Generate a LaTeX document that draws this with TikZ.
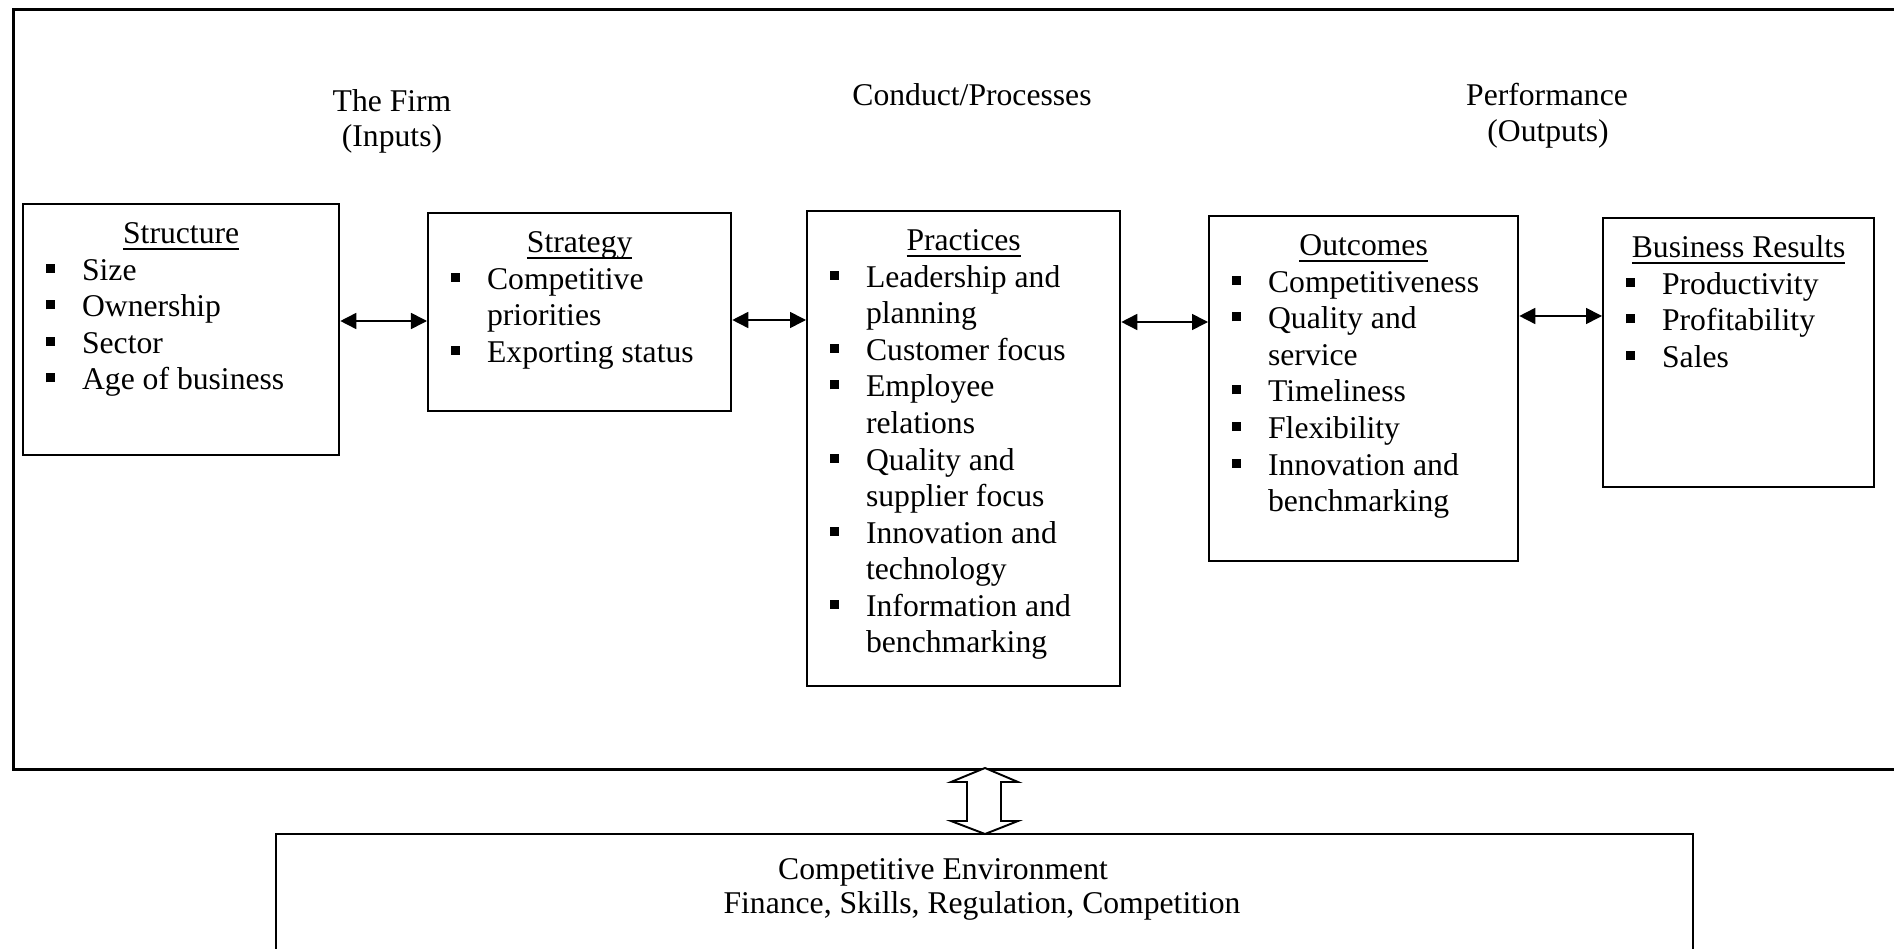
\documentclass[tikz,border=0pt]{standalone}
\usepackage{fontspec}
\setmainfont{Liberation Serif}
\usetikzlibrary{arrows.meta}

% underlined box title, line at a fixed depth
\newcommand{\headline}[1]{\setbox0\hbox{#1}\rlap{\rule[-1.7pt]{\wd0}{0.4pt}}\box0}
% one bullet item with hanging indent
\newcommand{\itm}[1]{\par\hangindent=0.59cm\hangafter=1\noindent
  \hspace*{0.23cm}\makebox[0.36cm][l]{\rule[0.075cm]{0.09cm}{0.09cm}}#1}
% box body: height, width, title, items
\newcommand{\boxbody}[4]{\begin{minipage}[c][#1][t]{#2}
  \fontsize{9}{10.4}\selectfont
  \hyphenpenalty=10000 \exhyphenpenalty=10000
  \vspace*{0.14cm}
  {\centering\strut\headline{#3}\par}
  \leftskip=0pt \rightskip=0.23cm plus 1fil\relax
  #4\par
  \end{minipage}}

\tikzset{
  stage/.style={draw, line width=0.6pt, inner sep=0pt, anchor=north west},
  heading/.style={inner sep=0pt, anchor=base, font=\fontsize{9}{10.4}\selectfont},
  link/.style={{Triangle[length=0.16cm,width=0.16cm]}-{Triangle[length=0.16cm,width=0.16cm]}, line width=0.45pt}
}

\begin{document}
\begin{tikzpicture}[x=0.01cm,y=-0.01cm]
  \useasboundingbox (0,0) rectangle (1894,949);
  \clip (0,0) rectangle (1894,949);

  %% outer frame
  \node[draw, line width=0.85pt, inner sep=0pt, minimum width=18.81cm, minimum height=7.6cm, anchor=north west] (frame) at (12,8) {};

  %% column headings
  \node[heading] (firm) at (392,112) {The Firm};
  \node[heading] (inputs) at (392,147) {(Inputs)};
  \node[heading] (conduct) at (972,106) {Conduct/Processes};
  \node[heading] (perf) at (1547,106) {Performance};
  \node[heading] (outputs) at (1548,142) {(Outputs)};

  %% the five boxes
  \node[stage] (structure) at (22,203) {\boxbody{2.51cm}{3.16cm}{Structure}{%
    \itm{Size}\itm{Ownership}\itm{Sector}\itm{Age of business}}};
  \node[stage] (strategy) at (427,212) {\boxbody{1.98cm}{3.03cm}{Strategy}{%
    \itm{Competitive priorities}\itm{Exporting status}}};
  \node[stage] (practices) at (806,210) {\boxbody{4.75cm}{3.13cm}{Practices}{%
    \itm{Leadership and planning}\itm{Customer focus}\itm{Employee relations}%
    \itm{Quality and supplier focus}\itm{Innovation and technology}%
    \itm{Information and benchmarking}}};
  \node[stage] (outcomes) at (1208,215) {\boxbody{3.45cm}{3.09cm}{Outcomes}{%
    \itm{Competitiveness}\itm{Quality and service}\itm{Timeliness}%
    \itm{Flexibility}\itm{Innovation and benchmarking}}};
  \node[stage] (results) at (1602,217) {\boxbody{2.69cm}{2.71cm}{Business Results}{%
    \itm{Productivity}\itm{Profitability}\itm{Sales}}};

  %% two-way links
  \draw[link] (structure.east |- 0,321) -- (strategy.west |- 0,321);
  \draw[link] (strategy.east |- 0,320) -- (practices.west |- 0,320);
  \draw[link] (practices.east |- 0,322) -- (outcomes.west |- 0,322);
  \draw[link] (outcomes.east |- 0,316) -- (results.west |- 0,316);

  %% environment
  \node[draw, line width=0.6pt, inner sep=0pt, minimum width=14.16cm, minimum height=1.4cm, anchor=north west] (env) at (275,833) {};
  \node[heading] (envtitle) at (943,879) {Competitive Environment};
  \node[heading] (envlist) at (982,913) {Finance, Skills, Regulation, Competition};

  %% hollow double arrow
  \draw[line width=0.55pt, fill=white] (985,768) -- (1018,782) -- (1001,782) -- (1001,821)
    -- (1018,821) -- (985,834) -- (951,821) -- (967,821) -- (967,782) -- (951,782) -- cycle;
\end{tikzpicture}
\end{document}
